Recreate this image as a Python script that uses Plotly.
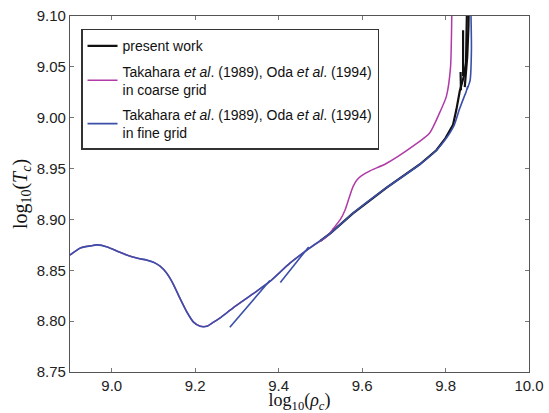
import plotly.graph_objects as go

# ---- data (log10 rho_c, log10 T_c) ----
fine_x = [8.900, 8.925, 8.949, 8.965, 8.989, 9.012, 9.036, 9.060, 9.084, 9.100, 9.116,
          9.132, 9.148, 9.164, 9.180, 9.196, 9.212, 9.228, 9.244, 9.259, 9.291, 9.339,
          9.379, 9.427, 9.475, 9.523, 9.578, 9.658, 9.738, 9.778, 9.802, 9.821, 9.833,
          9.845, 9.849, 9.853, 9.851, 9.857, 9.859, 9.862, 9.861, 9.860,
          None, 9.283, 9.379,
          None, 9.404, 9.472]
fine_y = [8.865, 8.872, 8.874, 8.875, 8.873, 8.869, 8.865, 8.862, 8.860, 8.858, 8.854,
          8.847, 8.836, 8.822, 8.809, 8.799, 8.795, 8.795, 8.799, 8.803, 8.813, 8.827,
          8.839, 8.857, 8.872, 8.886, 8.906, 8.931, 8.954, 8.968, 8.980, 8.993, 9.008,
          9.021, 9.025, 9.031, 9.027, 9.034, 9.037, 9.067, 9.100, 9.115,
          None, 8.794, 8.840,
          None, 8.838, 8.873]

coarse_x = [8.900, 8.925, 8.949, 8.965, 8.989, 9.012, 9.036, 9.060, 9.084, 9.100, 9.116,
            9.132, 9.148, 9.164, 9.180, 9.196, 9.212, 9.228, 9.244, 9.259, 9.291, 9.339,
            9.379, 9.427, 9.475, 9.515, 9.531, 9.548, 9.559, 9.568, 9.578, 9.588, 9.599,
            9.620, 9.658, 9.722, 9.762, 9.786, 9.802, 9.812, 9.815, 9.816]
coarse_y = [8.865, 8.872, 8.874, 8.875, 8.873, 8.869, 8.865, 8.862, 8.860, 8.858, 8.854,
            8.847, 8.836, 8.822, 8.809, 8.799, 8.795, 8.795, 8.799, 8.803, 8.813, 8.827,
            8.839, 8.857, 8.872, 8.883, 8.891, 8.900, 8.909, 8.920, 8.932, 8.939, 8.943,
            8.948, 8.955, 8.972, 8.985, 9.005, 9.021, 9.050, 9.100, 9.115]

present_x = [9.500, 9.523, 9.578, 9.658, 9.738, 9.778, 9.800, 9.818, 9.826, 9.834,
             9.844, 9.849, 9.851, 9.852,
             None, 9.842, 9.842,
             None, 9.836, 9.837,
             None, 9.846, 9.852, 9.855, 9.856]
present_y = [8.879, 8.886, 8.906, 8.931, 8.954, 8.968, 8.980, 8.993, 9.008, 9.026,
             9.041, 9.054, 9.100, 9.115,
             None, 9.086, 9.041,
             None, 9.045, 9.027,
             None, 9.030, 9.060, 9.090, 9.115]

labels = ["present work",
          "Takahara <i>et al</i>. (1989), Oda <i>et al</i>. (1994)<br>in coarse grid",
          "Takahara <i>et al</i>. (1989), Oda <i>et al</i>. (1994)<br>in fine grid"]
colors = ["#111111", "#b03aa6", "#3b4fa8"]

x_ticks = [9.0, 9.2, 9.4, 9.6, 9.8, 10.0]
y_ticks = [8.75, 8.80, 8.85, 8.90, 8.95, 9.00, 9.05, 9.10]

fig = go.Figure()
fig.add_trace(go.Scatter(x=present_x, y=present_y, mode="lines", name=labels[0],
                         legendgroup="a",
                         line=dict(color=colors[0], width=2.2), connectgaps=False))
fig.add_trace(go.Scatter(x=coarse_x, y=coarse_y, mode="lines", name=labels[1],
                         legendgroup="b",
                         line=dict(color=colors[1], width=1.5, shape="spline", smoothing=0.6)))
fig.add_trace(go.Scatter(x=fine_x, y=fine_y, mode="lines", name=labels[2],
                         legendgroup="c",
                         line=dict(color=colors[2], width=1.6, shape="spline", smoothing=0.6),
                         connectgaps=False))

axis_common = dict(showgrid=False, zeroline=False, showline=True, linecolor="#555555",
                   linewidth=1.2, mirror="allticks", ticks="inside", ticklen=4,
                   tickcolor="#777777", tickwidth=1,
                   tickfont=dict(family="Liberation Sans, Arial", size=15, color="#222222"))

fig.update_xaxes(range=[8.9, 10.0], tickvals=x_ticks,
                 ticktext=[f"{v:.1f}" for v in x_ticks],
                 title=dict(text="log<sub>10</sub>(<i>ρ<sub>c</sub></i>)",
                            font=dict(family="Liberation Serif, DejaVu Serif", size=18, color="#111111"),
                            standoff=4),
                 **axis_common)
fig.update_yaxes(range=[8.75, 9.10], tickvals=y_ticks,
                 ticktext=[f"{v:.2f}" for v in y_ticks],
                 title=dict(text="log<sub>10</sub>(<i>T<sub>c</sub></i>)",
                            font=dict(family="Liberation Serif, DejaVu Serif", size=20, color="#111111"),
                            standoff=3),
                 **axis_common)

fig.update_layout(
    width=549, height=413,
    margin=dict(l=70, r=20, t=16, b=41, autoexpand=False),
    plot_bgcolor="white", paper_bgcolor="white",
    legend=dict(x=0.024, y=0.964, xanchor="left", yanchor="top",
                bgcolor="white", bordercolor="#333333", borderwidth=1.5,
                font=dict(family="Liberation Sans, Arial", size=14, color="#111111"),
                itemwidth=30, tracegroupgap=4),
    showlegend=True,
)

fig.write_html("out.html", config={"displayModeBar": False},
               post_script="document.body.style.margin='0px';document.body.style.padding='0px';")
